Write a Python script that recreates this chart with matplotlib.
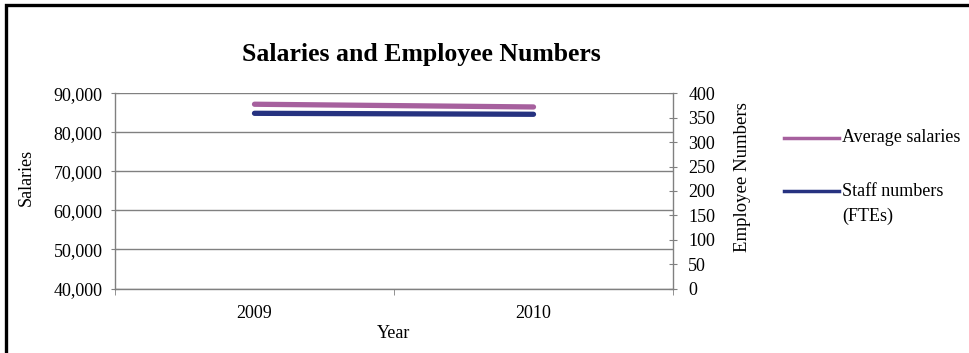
import matplotlib
matplotlib.use("Agg")
import matplotlib.pyplot as plt
from matplotlib.patches import Rectangle
from matplotlib.ticker import FuncFormatter, MultipleLocator, FixedLocator

# data
years = ["2009", "2010"]
avg_salaries = [87200, 86500]
staff_fte = [359, 357]

plt.rcParams['font.family'] = ['Liberation Serif', 'DejaVu Serif']

W, H = 970, 353
fig = plt.figure(figsize=(W / 100, H / 100), dpi=100)
ax = fig.add_axes([115 / W, 1 - 288.5 / H, (673 - 115) / W, (288.5 - 93.3) / H])
ax2 = ax.twinx()

grid_col = "#808080"
sal_col = "#a6609e"
fte_col = "#263280"
fs = 13
x = list(range(len(years)))

ax.plot(x, avg_salaries, color=sal_col, lw=3.8, solid_capstyle="round", zorder=3)
ax2.plot(x, staff_fte, color=fte_col, lw=3.8, solid_capstyle="round", zorder=3)

ax.set_xlim(-0.5, len(years) - 0.5)
ax.set_ylim(40000, 90000)
ax2.set_ylim(0, 400)

ax.yaxis.set_major_locator(MultipleLocator(10000))
ax.yaxis.set_major_formatter(FuncFormatter(lambda v, p: f"{int(v):,}"))
ax2.yaxis.set_major_locator(MultipleLocator(50))
ax.grid(axis="y", color=grid_col, lw=1.0)
ax.set_axisbelow(True)

ax.set_xticks(x)
ax.set_xticklabels(years)
ax.tick_params(axis="x", length=0, pad=12, labelsize=fs)
ax.xaxis.set_minor_locator(FixedLocator([-0.5, 0.5, 1.5]))
ax.tick_params(axis="x", which="minor", length=4, direction="out", color=grid_col)
ax.tick_params(axis="y", length=6, direction="inout", color=grid_col, labelsize=fs, pad=6)
ax2.tick_params(axis="y", length=6, direction="inout", color=grid_col, labelsize=fs, pad=8)

for a in (ax, ax2):
    a.spines["top"].set_visible(False)
    for s in a.spines.values():
        s.set_color(grid_col)
        s.set_linewidth(1.0)
ax.spines["right"].set_visible(False)
ax2.spines["left"].set_visible(False)
ax2.spines["bottom"].set_visible(False)

ax.set_xlabel("Year", fontsize=fs, labelpad=2)
ax.set_ylabel("Salaries", fontsize=fs)
ax2.set_ylabel("Employee Numbers", fontsize=13.5)
ax.yaxis.set_label_coords((35 - 115) / 558, 0.57)
ax2.yaxis.set_label_coords((734 - 115) / 558, 0.57)

fig.text(421 / W, 1 - 54 / H, "Salaries and Employee Numbers",
         ha="center", va="center", fontsize=18.5, fontweight="bold")

# legend drawn in figure coordinates
legend_items = [(["Average salaries"], sal_col, 138),
                (["Staff numbers", "(FTEs)"], fte_col, 191)]
for lines, col, ypx in legend_items:
    yf = 1 - ypx / H
    fig.add_artist(plt.Line2D([784 / W, 839 / W], [yf, yf], color=col, lw=2.5,
                              transform=fig.transFigure))
    for i, txt in enumerate(lines):
        fig.text(842 / W, 1 - (ypx + 25 * i) / H, txt, ha="left", va="center",
                 fontsize=fs)

# outer frame (only top and left edges fall inside the image)
fig.add_artist(Rectangle((6 / W, -0.1), 1.2, 1 - 5 / H + 0.1, transform=fig.transFigure,
                         fill=False, edgecolor="black", lw=2.4))

fig.savefig("out.png", dpi=100)
